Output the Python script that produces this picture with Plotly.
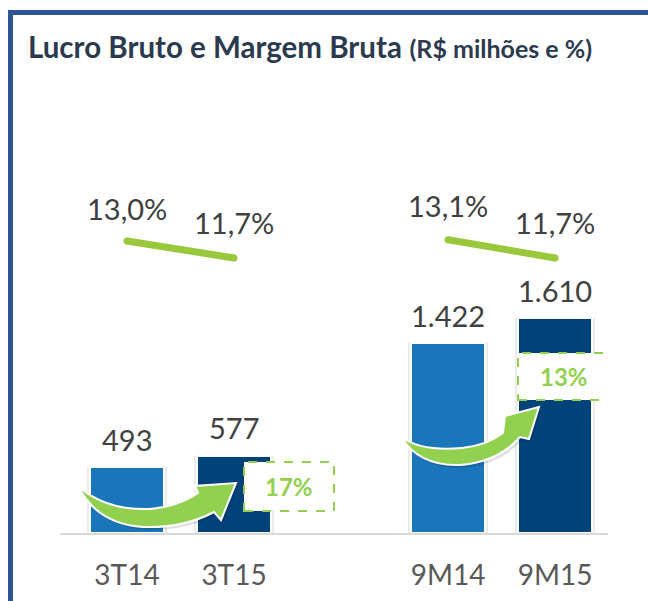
import plotly.graph_objects as go

# ---- data ----
categories = ["3T14", "3T15", "9M14", "9M15"]
positions = [0, 1, 3, 4]
lucro_bruto = [493, 577, 1422, 1610]
margem_bruta = [13.0, 11.7, 13.1, 11.7]
growth_labels = ["17%", "13%"]

bar_colors = ["#1B75BB", "#00427A", "#1B75BB", "#00427A"]
GREEN_LINE = "#9AC83C"
GREEN = "#92D050"

# ---- layout geometry ----
W, H = 648, 601
ML, MR, MT, MB = 60, 40, 100, 68
PW, PH = W - ML - MR, H - MT - MB
XR = [-0.626, 4.495]
YR = [0, 3243]
Y2R = [-9.32, 23.78]


def fmt_int(v):
    return f"{v:,.0f}".replace(",", ".")


def fmt_pct(v):
    return f"{v:.1f}".replace(".", ",") + "%"


def px2x(px):
    return XR[0] + (px - ML) / PW * (XR[1] - XR[0])


def py2y(py):
    return YR[0] + (H - MB - py) / PH * (YR[1] - YR[0])


def xp(px):
    return (px - ML) / PW


def yp(py):
    return (H - MB - py) / PH


def path(cmds, dx=0, dy=0):
    out = []
    for c in cmds:
        op, pts = c[0], c[1:]
        coords = []
        for i in range(0, len(pts), 2):
            coords.append(f"{px2x(pts[i] + dx):.4f},{py2y(pts[i + 1] + dy):.2f}")
        out.append(op + " " + " ".join(coords) if coords else op)
    return " ".join(out)


fig = go.Figure()

# bar shadows
fig.add_trace(go.Bar(
    x=positions, y=lucro_bruto, width=0.75,
    marker=dict(color="rgba(0,0,0,0.08)", line=dict(width=0)),
    hoverinfo="skip", showlegend=False,
))
# bars
fig.add_trace(go.Bar(
    x=positions, y=lucro_bruto, width=0.69,
    marker=dict(color=bar_colors, line=dict(color="white", width=2)),
    showlegend=False,
))

# margin lines (two segments)
for idx in ([0, 1], [2, 3]):
    fig.add_trace(go.Scatter(
        x=[positions[i] for i in idx], y=[margem_bruta[i] for i in idx],
        yaxis="y2", mode="lines+markers",
        line=dict(color=GREEN_LINE, width=7),
        marker=dict(color=GREEN_LINE, size=7),
        showlegend=False,
    ))

annotations = []
# value labels
for x, v in zip(positions, lucro_bruto):
    annotations.append(dict(
        x=x, y=v, xref="x", yref="y", text=fmt_int(v), showarrow=False,
        yanchor="middle", yshift=28,
        font=dict(family="Lato", size=29, color="#404040"),
    ))
# margin labels
for x, m, sh in zip(positions, margem_bruta, [33, 36, 34, 36]):
    annotations.append(dict(
        x=x, y=m, xref="x", yref="y2", text=fmt_pct(m), showarrow=False,
        yanchor="middle", yshift=sh,
        font=dict(family="Lato", size=29, color="#404040"),
    ))

shapes = []
# frame
shapes.append(dict(type="line", xref="paper", yref="paper",
                   x0=xp(10.5), x1=xp(10.5), y0=yp(10), y1=yp(H + 5),
                   line=dict(color="#2F5597", width=5)))
shapes.append(dict(type="line", xref="paper", yref="paper",
                   x0=xp(8), x1=xp(W + 5), y0=yp(12.5), y1=yp(12.5),
                   line=dict(color="#2F5597", width=5)))

arrow1 = [
    ("M", 78, 486),
    ("C", 98, 504, 123, 510, 150, 509),
    ("C", 172, 507, 188, 500, 198, 493),
    ("L", 195, 486),
    ("L", 236, 483),
    ("L", 221, 520),
    ("L", 214, 512),
    ("C", 195, 522, 170, 528, 143, 527),
    ("C", 112, 525, 90, 510, 78, 486),
    ("Z",),
]
arrow2 = [
    ("M", 401, 437),
    ("C", 418, 449, 440, 450, 462, 448),
    ("C", 480, 446, 494, 440, 503, 433),
    ("L", 505, 416),
    ("L", 539, 407),
    ("L", 529, 439),
    ("L", 520, 437),
    ("C", 506, 453, 486, 463, 460, 465),
    ("C", 433, 466, 413, 456, 401, 437),
    ("Z",),
]
for arr in (arrow1, arrow2):
    shapes.append(dict(type="path", xref="x", yref="y", path=path(arr, 2, 3),
                       fillcolor="rgba(0,0,0,0.12)", line=dict(width=0)))
    shapes.append(dict(type="path", xref="x", yref="y", path=path(arr),
                       fillcolor=GREEN, line=dict(color="white", width=2)))

# dashed growth boxes
boxes = [(244, 462, 334, 511), (518, 353, 609, 400)]
for (x0, y0, x1, y1), lab in zip(boxes, growth_labels):
    shapes.append(dict(type="rect", xref="x", yref="y",
                       x0=px2x(x0), x1=px2x(x1), y0=py2y(y1), y1=py2y(y0),
                       fillcolor="white",
                       line=dict(color=GREEN, width=2, dash="dash")))
    annotations.append(dict(
        x=px2x((x0 + x1) / 2), y=py2y((y0 + y1) / 2), xref="x", yref="y",
        text=f"<b>{lab}</b>", showarrow=False, yanchor="middle",
        font=dict(family="Lato", size=24, color=GREEN),
    ))

fig.update_layout(
    width=W, height=H,
    margin=dict(l=ML, r=MR, t=MT, b=MB, pad=0, autoexpand=False),
    paper_bgcolor="white", plot_bgcolor="white",
    barmode="overlay", bargap=0,
    separators=",.",
    title=dict(
        text="<b>Lucro Bruto e Margem Bruta</b> <b><span style='font-size:25px'>(R$ milhões e %)</span></b>",
        x=28 / W, xanchor="left", xref="container",
        y=1 - 48 / H, yanchor="middle", yref="container",
        font=dict(family="Lato", size=29.5, color="#2B3A4E"),
    ),
    xaxis=dict(
        range=XR, tickvals=positions, ticktext=categories,
        showgrid=False, zeroline=False, automargin=False,
        showline=True, linecolor="#D9D9D9", linewidth=2,
        ticks="outside", ticklen=16, tickcolor="rgba(0,0,0,0)",
        tickfont=dict(family="Lato", size=28, color="#595959"),
    ),
    yaxis=dict(range=YR, visible=False, showgrid=False, zeroline=False,
               automargin=False),
    yaxis2=dict(range=Y2R, overlaying="y", visible=False,
                showgrid=False, zeroline=False, automargin=False),
    shapes=shapes,
    annotations=annotations,
)

fig.write_html(
    "out.html",
    config={"displayModeBar": False},
    post_script="document.body.style.margin='0';document.body.style.overflow='hidden';",
)
